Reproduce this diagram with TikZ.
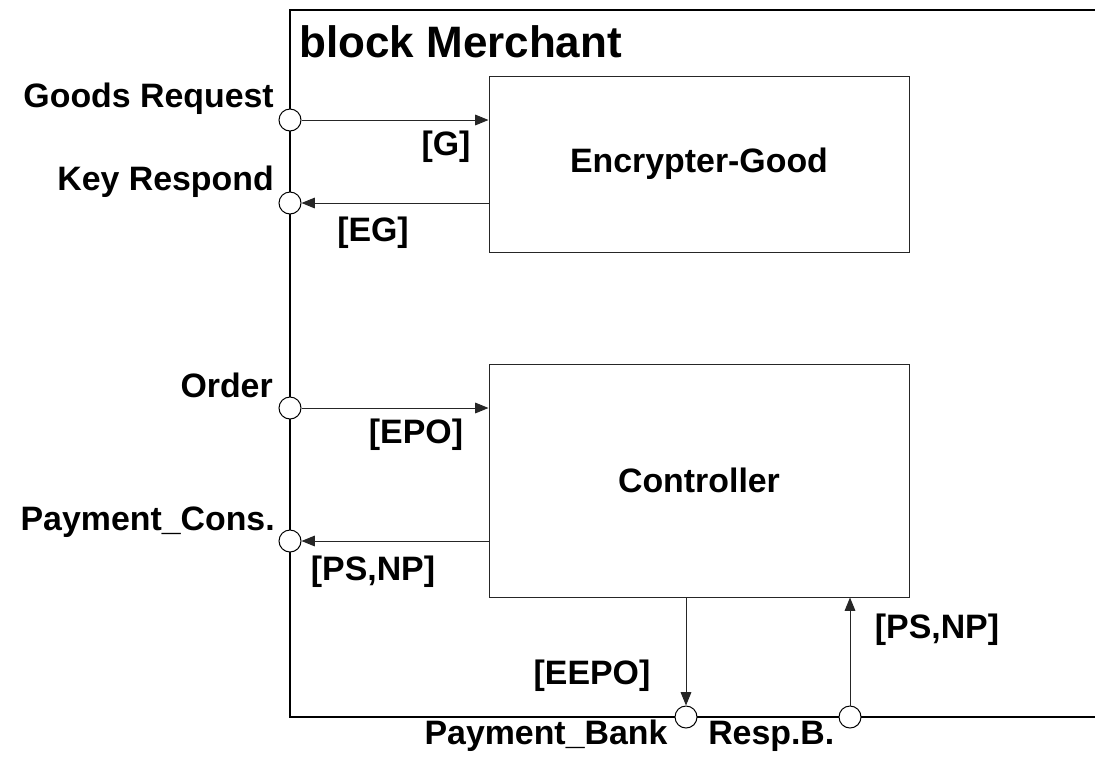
\documentclass[tikz,border=0pt]{standalone}
\usepackage{fontspec}
\setmainfont{Liberation Sans}
\usetikzlibrary{arrows.meta, positioning}
\tikzset{
  partbox/.style={
    rectangle, draw=black!85, line width=0.75pt, fill=white,
    minimum width=315pt, inner sep=0pt,
    font=\fontsize{25.4}{30}\selectfont\bfseries
  },
  port/.style={
    circle, draw=black, fill=white, line width=0.75pt,
    minimum size=16.5pt, inner sep=0pt
  },
  lbl/.style={font=\fontsize{25.4}{30}\selectfont\bfseries, inner sep=0pt},
  tlbl/.style={font=\fontsize{33}{40}\selectfont\bfseries, inner sep=0pt},
  frame/.style={line width=1.6pt, black},
  arr/.style={-{Triangle[length=10pt,width=8pt]}, line width=0.75pt, color=black!85},
}
\begin{document}
\begin{tikzpicture}[x=0.75pt, y=-0.75pt]
  \useasboundingbox (0,0) rectangle (1095,758);
  % block frame (open on the right)
  \draw[frame] (1095,10) -- (290,10) -- (290,717) -- (1095,717);
  \node[tlbl, anchor=base west] (title) at (299,57) {block Merchant};

  % parts
  \node[partbox, minimum height=132pt] (enc) at (699,164) {Encrypter-Good};
  \node[partbox, minimum height=174.75pt] (ctl) at (699,480.5) {Controller};

  % ports
  \node[port] (pGR) at (290,120) {};
  \node[port] (pKR) at (290,203) {};
  \node[port] (pOR) at (290,408) {};
  \node[port] (pPC) at (290,541) {};
  \node[port] (pPB) at (686,717) {};
  \node[port] (pRB) at (850,717) {};

  % port names
  \node[lbl, anchor=base east] (tGR) at (274,107) {Goods Request};
  \node[lbl, anchor=base east] (tKR) at (274,190) {Key Respond};
  \node[lbl, anchor=base east] (tOR) at (273,397) {Order};
  \node[lbl, anchor=base east] (tPC) at (275,530) {Payment\_Cons.};
  \node[lbl, anchor=base] (tPB) at (546,744) {Payment\_Bank};
  \node[lbl, anchor=base west] (tRB) at (708,744) {Resp.B.};

  % flows
  \draw[arr] (pGR.east) -- (pGR -| enc.west);
  \draw[arr] (enc.west |- pKR) -- (pKR.east);
  \draw[arr] (pOR.east) -- (pOR -| ctl.west);
  \draw[arr] (ctl.west |- pPC) -- (pPC.east);
  \draw[arr] (ctl.south -| pPB) -- (pPB.north);
  \draw[arr] (pRB.north) -- (pRB |- ctl.south);

  % flow items
  \node[lbl, anchor=base] (fG) at (446,155) {[G]};
  \node[lbl, anchor=base] (fEG) at (373,241) {[EG]};
  \node[lbl, anchor=base] (fEPO) at (416,443) {[EPO]};
  \node[lbl, anchor=base] (fPS) at (373,580) {[PS,NP]};
  \node[lbl, anchor=base] (fEEPO) at (592,684) {[EEPO]};
  \node[lbl, anchor=base] (fPSB) at (937,638) {[PS,NP]};
\end{tikzpicture}
\end{document}
